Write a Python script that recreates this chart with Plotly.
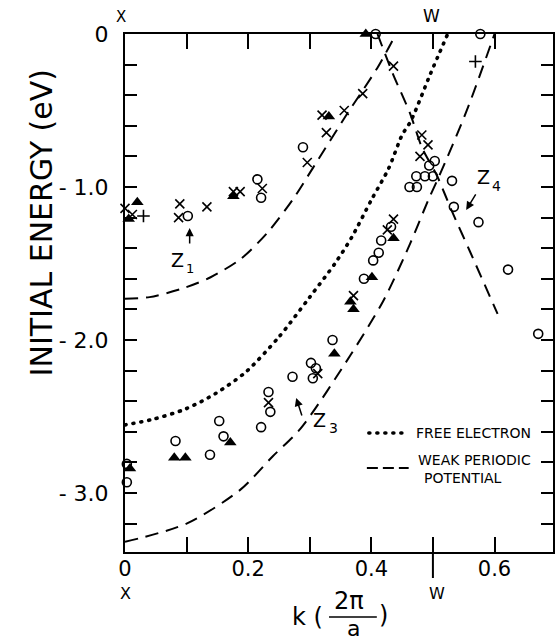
import plotly.graph_objects as go

# ---------------- data ----------------
# free-electron band (dotted)
free_k = [0.0, 0.044, 0.099, 0.147, 0.196, 0.25, 0.30, 0.341, 0.368, 0.40, 0.428, 0.45, 0.464, 0.496, 0.524]
free_E = [-2.555, -2.52, -2.45, -2.35, -2.21, -1.98, -1.72, -1.50, -1.33, -1.085, -0.88, -0.66, -0.57, -0.26, 0.0]

# weak periodic potential bands (dashed)
wpA_k = [0.0, 0.04, 0.096, 0.139, 0.188, 0.231, 0.272, 0.306, 0.361, 0.41, 0.44]
wpA_E = [-1.73, -1.72, -1.66, -1.59, -1.47, -1.30, -1.085, -0.87, -0.52, -0.22, 0.0]
wpB_k = [0.41, 0.435, 0.463, 0.482, 0.507, 0.531, 0.56, 0.605]
wpB_E = [0.0, -0.26, -0.52, -0.74, -0.93, -1.16, -1.42, -1.83]
wpC_k = [0.0, 0.10, 0.187, 0.24, 0.285, 0.366, 0.42, 0.463, 0.493, 0.51, 0.555, 0.60]
wpC_E = [-3.32, -3.20, -2.98, -2.76, -2.58, -2.10, -1.74, -1.37, -1.08, -0.93, -0.50, 0.0]

# experimental points
cross_k = [0.0, 0.012, 0.089, 0.087, 0.133, 0.176, 0.187, 0.223, 0.296, 0.32, 0.327, 0.356, 0.386,
           0.436, 0.482, 0.492, 0.479, 0.436, 0.426, 0.371, 0.313, 0.233]
cross_E = [-1.14, -1.18, -1.11, -1.20, -1.13, -1.03, -1.03, -1.01, -0.84, -0.53, -0.645, -0.50, -0.39,
           -0.21, -0.66, -0.725, -0.80, -1.21, -1.28, -1.71, -2.22, -2.41]

circle_k = [0.102, 0.215, 0.221, 0.289, 0.407, 0.577, 0.503, 0.494, 0.473, 0.487, 0.50, 0.462, 0.474,
            0.531, 0.534, 0.574, 0.622, 0.671, 0.432, 0.416, 0.412, 0.403, 0.388, 0.337, 0.302, 0.31,
            0.305, 0.272, 0.233, 0.236, 0.221, 0.153, 0.16, 0.138, 0.082, 0.003, 0.003]
circle_E = [-1.19, -0.95, -1.07, -0.74, 0.0, 0.0, -0.83, -0.86, -0.93, -0.93, -0.93, -1.0, -1.0,
            -0.96, -1.13, -1.23, -1.54, -1.96, -1.26, -1.35, -1.43, -1.48, -1.60, -2.0, -2.15, -2.185,
            -2.25, -2.24, -2.34, -2.47, -2.57, -2.53, -2.63, -2.75, -2.66, -2.81, -2.93]

tri_k = [0.02, 0.006, 0.176, 0.331, 0.391, 0.436, 0.401, 0.366, 0.371, 0.34, 0.171, 0.08, 0.098, 0.008]
tri_E = [-1.10, -1.21, -1.06, -0.54, 0.0, -1.335, -1.59, -1.75, -1.80, -2.09, -2.67, -2.77, -2.77, -2.84]

plus_k = [0.03, 0.569]
plus_E = [-1.19, -0.18]

# axis ticks
x_tickvals = [0.0, 0.1, 0.2, 0.3, 0.4, 0.5, 0.6]
x_ticktext = ["0", "", "0.2", "", "0.4", "", "0.6"]
y_tickvals = [-0.2 * i for i in range(17)]
y_ticktext = ["0", "", "", "", "", "-\u00a01.0", "", "", "", "", "-\u00a02.0", "", "", "", "", "-\u00a03.0", ""]

X_RANGE = [0.0, 0.695]
Y_RANGE = [-3.386, 0.0]

# ---------------- layout helpers (pixel -> paper) ----------------
L, R, T, B = 125, 4, 34, 88
W, H = 559, 640
PW, PH = W - L - R, H - T - B


def px(xp):
    return (xp - L) / PW


def py(yp):
    return (H - B - yp) / PH


FONT = "DejaVu Sans"
fig = go.Figure()

line_style = dict(color="black", width=2, dash="13px,8px")
for kk, ee in [(wpA_k, wpA_E), (wpB_k, wpB_E), (wpC_k, wpC_E)]:
    fig.add_trace(go.Scatter(x=kk, y=ee, mode="lines", line=dict(shape="spline", smoothing=0.8, **line_style),
                             showlegend=False, hoverinfo="skip"))

fig.add_trace(go.Scatter(x=free_k, y=free_E, mode="lines",
                         line=dict(color="black", width=3.6, dash="1px,7px", shape="spline", smoothing=0.8),
                         showlegend=False, hoverinfo="skip"))

fig.add_trace(go.Scatter(x=circle_k, y=circle_E, mode="markers", cliponaxis=False, showlegend=False,
                         marker=dict(symbol="circle-open", size=9, color="black", line=dict(width=1.6, color="black"))))
fig.add_trace(go.Scatter(x=cross_k, y=cross_E, mode="markers", cliponaxis=False, showlegend=False,
                         marker=dict(symbol="x-thin", size=9, color="black", line=dict(width=1.6, color="black"))))
fig.add_trace(go.Scatter(x=plus_k, y=plus_E, mode="markers", cliponaxis=False, showlegend=False,
                         marker=dict(symbol="cross-thin", size=9, color="black", line=dict(width=1.6, color="black"))))
fig.add_trace(go.Scatter(x=tri_k, y=tri_E, mode="markers", cliponaxis=False, showlegend=False,
                         marker=dict(symbol="triangle-up", size=11, color="black", line=dict(width=0))))

axis_common = dict(showline=True, linecolor="black", linewidth=2, mirror="ticks", ticks="inside",
                   tickwidth=2, tickcolor="black", showgrid=False, zeroline=False)

fig.update_xaxes(range=X_RANGE, tickvals=x_tickvals, ticktext=x_ticktext, ticklen=15,
                 ticklabelstandoff=-3, tickfont=dict(family=FONT, size=21, color="black"), **axis_common)
fig.update_yaxes(range=Y_RANGE, tickvals=y_tickvals, ticktext=y_ticktext, ticklen=12,
                 ticklabelstandoff=10, tickfont=dict(family=FONT, size=22, color="black"), **axis_common)

ann = []


def txt(text, xp, yp, size, xanchor="center", angle=0):
    ann.append(dict(text=text, x=px(xp), y=py(yp), xref="paper", yref="paper", showarrow=False,
                    xanchor=xanchor, yanchor="middle", textangle=angle,
                    font=dict(family=FONT, size=size, color="black")))


txt("INITIAL ENERGY (eV)", 41, 223, 30, angle=-90)
txt("k (", 308, 617, 24)
txt("2\u03c0", 350, 601, 24)
txt("a", 355, 628, 22)
txt(")", 385, 615, 24)
txt("X", 125, 593, 16)
txt("W", 438, 593, 16)
txt("X", 121, 17, 15)
txt("W", 433, 16, 17)
txt("Z", 178, 260, 19)
txt("1", 190.5, 268.5, 13)
txt("Z", 320, 420, 19)
txt("3", 334, 428, 14)
txt("Z", 485, 177.5, 19)
txt("4", 498, 186, 14)
txt("FREE ELECTRON", 415, 433, 14, xanchor="left")
txt("WEAK PERIODIC", 417, 460, 14, xanchor="left")
txt("POTENTIAL", 423, 478, 14, xanchor="left")

# arrows pointing at Z features (head, tail in data units)
arrows = [((0.105, -1.268), (0.105, -1.379)),
          ((0.278, -2.379), (0.288, -2.503)),
          ((0.554, -1.150), (0.571, -1.039))]
for (hx, hy), (tx, ty) in arrows:
    ann.append(dict(x=hx, y=hy, ax=tx, ay=ty, xref="x", yref="y", axref="x", ayref="y", text="",
                    showarrow=True, arrowhead=2, arrowsize=1.1, arrowwidth=1.5, arrowcolor="black"))

shapes = [
    # fraction bar of 2pi/a
    dict(type="line", xref="paper", yref="paper", x0=px(330), x1=px(378), y0=py(617), y1=py(617),
         line=dict(color="black", width=1.5)),
    # extended W tick below the axis
    dict(type="line", xref="x", yref="paper", x0=0.5, x1=0.5, y0=0, y1=py(578),
         line=dict(color="black", width=2)),
    # legend samples
    dict(type="line", xref="paper", yref="paper", x0=px(370), x1=px(410), y0=py(433), y1=py(433),
         line=dict(color="black", width=3.6, dash="1px,7px")),
    dict(type="line", xref="paper", yref="paper", x0=px(368), x1=px(410), y0=py(468), y1=py(468),
         line=dict(color="black", width=2, dash="11px,5px")),
]

fig.update_layout(width=W, height=H, autosize=False, margin=dict(l=L, r=R, t=T, b=B, pad=0),
                  paper_bgcolor="white", plot_bgcolor="white", annotations=ann, shapes=shapes,
                  font=dict(family=FONT, color="black"), showlegend=False)

post = """
var gd = document.getElementById('{plot_id}');
gd.querySelectorAll('path').forEach(function(p){
  var d = p.style.strokeDasharray || '';
  if (d.indexOf('1px') === 0) { p.style.strokeLinecap = 'round'; }
});
"""
fig.write_html("out.html", post_script=post)
